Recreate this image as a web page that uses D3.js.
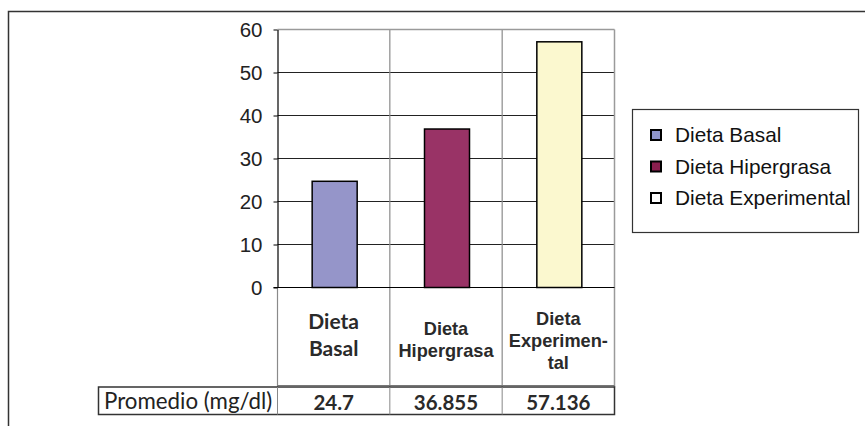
<!DOCTYPE html>
<html><head><meta charset="utf-8">
<script src="https://cdn.jsdelivr.net/npm/d3@7"></script>
<style>body{margin:0;background:#fff}svg{display:block}</style>
</head><body>
<script>
const categories = ["Dieta Basal", "Dieta Hipergrasa", "Dieta Experimental"];
const categoryLines = [["Dieta", "Basal"], ["Dieta", "Hipergrasa"], ["Dieta", "Experimen-", "tal"]];
const values = [24.7, 36.855, 57.136];
const valueLabels = ["24.7", "36.855", "57.136"];
const colors = ["#9595c9", "#993366", "#fbf8cf"];
const legendColors = ["#8f94c8", "#8a1f4e", "#ffffff"];
const yTicks = [0, 10, 20, 30, 40, 50, 60];
const rowLabel = "Promedio (mg/dl)";

const W = 865, H = 426;
const svg = d3.select("body").append("svg").attr("width", W).attr("height", H);

// outer frame
svg.append("path").attr("d", `M8.5,${H} V11.5 H${W}`).attr("fill", "none").attr("stroke", "#333").attr("stroke-width", 1.5);

const L = 277.5, R = 614.5, T = 29.5, B = 287.5;
const x = d3.scaleBand().domain(categories).range([L, R]).paddingInner(0).paddingOuter(0);
const y = d3.scaleLinear().domain([0, 60]).range([B, T]);

// horizontal gridlines
svg.append("g").selectAll("line").data(yTicks.filter(d => d > 0 && d < 60)).join("line")
  .attr("x1", L).attr("x2", R).attr("y1", d => y(d)).attr("y2", d => y(d))
  .attr("stroke", "#222").attr("stroke-width", 1);

// vertical dividers (plot + table)
const tableBottom = 387.5;
svg.append("g").selectAll("line").data(categories.slice(1)).join("line")
  .attr("x1", d => x(d)).attr("x2", d => x(d)).attr("y1", T).attr("y2", tableBottom)
  .attr("stroke", "#8a8a8a").attr("stroke-width", 1.2);
svg.append("line").attr("x1", R).attr("x2", R).attr("y1", T).attr("y2", tableBottom).attr("stroke", "#9a9a9a").attr("stroke-width", 1.5);
svg.append("line").attr("x1", L).attr("x2", R).attr("y1", T).attr("y2", T).attr("stroke", "#9a9a9a").attr("stroke-width", 1.5);
svg.append("line").attr("x1", L).attr("x2", L).attr("y1", B).attr("y2", tableBottom).attr("stroke", "#8a8a8a").attr("stroke-width", 1.2);

// bars
const bw = 45;
svg.append("g").selectAll("rect").data(values).join("rect")
  .attr("x", (d, i) => x(categories[i]) + x.bandwidth() / 2 - bw / 2 + 1)
  .attr("y", d => y(d)).attr("width", bw).attr("height", d => B - y(d))
  .attr("fill", (d, i) => colors[i]).attr("stroke", "#000").attr("stroke-width", 1.5);

// y axis
const yAxis = svg.append("g").attr("transform", `translate(${L},0)`)
  .call(d3.axisLeft(y).tickValues(yTicks).tickSize(4).tickPadding(11).tickSizeOuter(0));
yAxis.select(".domain").attr("stroke", "#000").attr("stroke-width", 1.2);
yAxis.selectAll(".tick line").attr("stroke", "#000");
yAxis.selectAll(".tick text").attr("font-family", "Liberation Sans, Arial, sans-serif").attr("font-size", 20.5).attr("fill", "#222");
// zero baseline
svg.append("line").attr("x1", L - 4).attr("x2", R).attr("y1", B).attr("y2", B).attr("stroke", "#000").attr("stroke-width", 1.2);

// category labels in table
const catFonts = [
  {fam: "Lato, 'Open Sans', sans-serif", size: 21, lh: 27, y0: 329},
  {fam: "Liberation Sans, Arial, sans-serif", size: 18.2, lh: 22, y0: 335},
  {fam: "Liberation Sans, Arial, sans-serif", size: 18.2, lh: 22, y0: 324.5}
];
categories.forEach((c, i) => {
  const f = catFonts[i];
  const t = svg.append("text").attr("text-anchor", "middle")
    .attr("font-family", f.fam).attr("font-size", f.size).attr("font-weight", "bold").attr("fill", "#2a2a2a");
  categoryLines[i].forEach((ln, j) => {
    t.append("tspan").attr("x", x(c) + x.bandwidth() / 2).attr("y", f.y0 + j * f.lh).text(ln);
  });
});

// row separator
svg.append("line").attr("x1", L).attr("x2", R).attr("y1", 385.5).attr("y2", 385.5).attr("stroke", "#777").attr("stroke-width", 1);

// Promedio row
const rowTop = 387, rowBot = 414.5, rowLeft = 98.5;
svg.append("rect").attr("x", rowLeft).attr("y", rowTop).attr("width", R - rowLeft).attr("height", rowBot - rowTop)
  .attr("fill", "none").attr("stroke", "#333").attr("stroke-width", 1.5);
svg.append("line").attr("x1", L).attr("x2", L).attr("y1", rowTop).attr("y2", rowBot).attr("stroke", "#888").attr("stroke-width", 1);
svg.append("g").selectAll("line").data(categories.slice(1)).join("line")
  .attr("x1", d => x(d)).attr("x2", d => x(d)).attr("y1", rowTop).attr("y2", rowBot)
  .attr("stroke", "#888").attr("stroke-width", 1);
svg.append("text").attr("x", 104).attr("y", 409).attr("font-family", "Lato, 'Open Sans', sans-serif")
  .attr("font-size", 22.3).attr("fill", "#222").text(rowLabel);
svg.append("g").selectAll("text").data(valueLabels).join("text")
  .attr("x", (d, i) => x(categories[i]) + x.bandwidth() / 2).attr("y", 410)
  .attr("text-anchor", "middle").attr("font-family", "Lato, 'Open Sans', sans-serif")
  .attr("font-size", 20.5).attr("font-weight", "bold").attr("fill", "#2a2a2a").text(d => d);

// legend
const lg = svg.append("g");
lg.append("rect").attr("x", 632.5).attr("y", 109.5).attr("width", 226).attr("height", 123)
  .attr("fill", "#fff").attr("stroke", "#333").attr("stroke-width", 1.2);
const ly = d3.scalePoint().domain(categories).range([135, 198]);
categories.forEach((c, i) => {
  lg.append("rect").attr("x", 651).attr("y", ly(c) - 5).attr("width", 10).attr("height", 10)
    .attr("fill", legendColors[i]).attr("stroke", "#000").attr("stroke-width", 2);
  lg.append("text").attr("x", 675).attr("y", ly(c)).attr("dy", "0.36em")
    .attr("font-family", "Liberation Sans, Arial, sans-serif").attr("font-size", 20.8).attr("fill", "#111").text(c);
});
</script>
</body></html>
